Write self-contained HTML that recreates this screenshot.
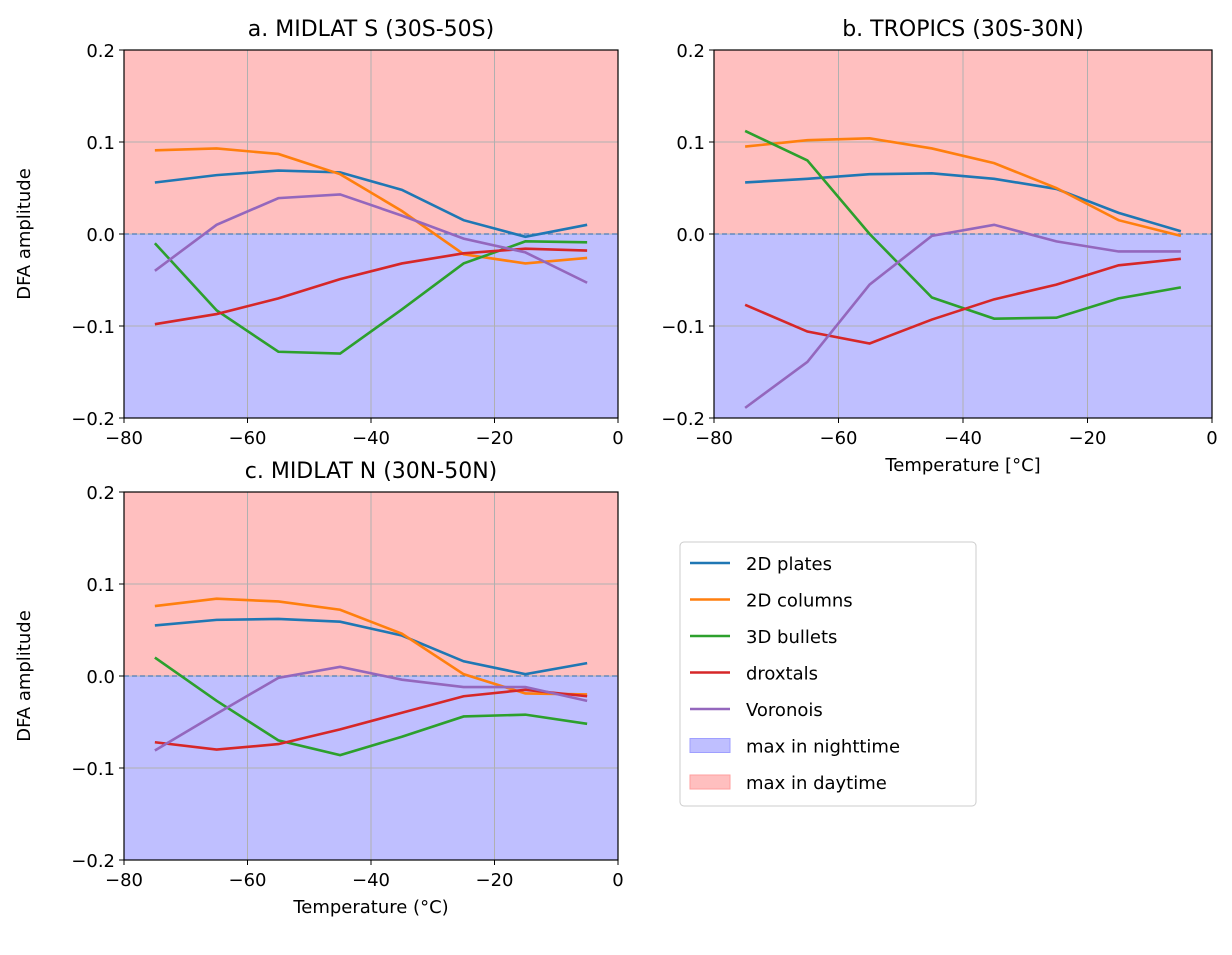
<!DOCTYPE html>
<html><head><meta charset="utf-8"><style>
body{margin:0;background:#fff;}
svg{font-family:"DejaVu Sans","Liberation Sans",sans-serif;}
</style></head><body>
<svg id="fig" width="1232" height="950" xmlns="http://www.w3.org/2000/svg"></svg>
<script>
const temps=[-75,-65,-55,-45,-35,-25,-15,-5];
const xTicks=[-80,-60,-40,-20,0];
const yTicks=[-0.2,-0.1,0.0,0.1,0.2];
const seriesNames=["2D plates","2D columns","3D bullets","droxtals","Voronois"];
const seriesColors=["#1f77b4","#ff7f0e","#2ca02c","#d62728","#9467bd"];
const aPlates=[0.056,0.064,0.069,0.067,0.048,0.015,-0.003,0.010];
const aColumns=[0.091,0.093,0.087,0.065,0.025,-0.022,-0.032,-0.026];
const aBullets=[-0.010,-0.083,-0.128,-0.130,-0.082,-0.032,-0.008,-0.009];
const aDroxtals=[-0.098,-0.087,-0.070,-0.049,-0.032,-0.021,-0.016,-0.018];
const aVoronois=[-0.040,0.010,0.039,0.043,0.020,-0.005,-0.020,-0.053];
const bPlates=[0.056,0.060,0.065,0.066,0.060,0.049,0.023,0.003];
const bColumns=[0.095,0.102,0.104,0.093,0.077,0.050,0.015,-0.002];
const bBullets=[0.112,0.080,0.000,-0.069,-0.092,-0.091,-0.070,-0.058];
const bDroxtals=[-0.077,-0.106,-0.119,-0.093,-0.071,-0.055,-0.034,-0.027];
const bVoronois=[-0.189,-0.139,-0.055,-0.002,0.010,-0.008,-0.019,-0.019];
const cPlates=[0.055,0.061,0.062,0.059,0.044,0.016,0.002,0.014];
const cColumns=[0.076,0.084,0.081,0.072,0.046,0.002,-0.019,-0.020];
const cBullets=[0.020,-0.027,-0.070,-0.086,-0.066,-0.044,-0.042,-0.052];
const cDroxtals=[-0.072,-0.080,-0.074,-0.058,-0.040,-0.022,-0.015,-0.022];
const cVoronois=[-0.081,-0.041,-0.002,0.010,-0.004,-0.012,-0.012,-0.027];

const NS="http://www.w3.org/2000/svg";
const svg=document.getElementById('fig');
function mk(tag,attrs,parent){const e=document.createElementNS(NS,tag);for(const k in attrs)e.setAttribute(k,attrs[k]);(parent||svg).appendChild(e);return e;}
function txt(s,attrs,parent){const e=mk('text',attrs,parent);e.textContent=s;return e;}

function panel(id,x0,x1,y0,y1,title,series,ylabel,xlabel){
  const g=mk('g',{});
  
  
  const xs=v=>x0+(v+80)/80*(x1-x0);
  const ys=v=>y1-(v+0.2)/0.4*(y1-y0);
  const day=mk('rect',{x:x0,y:y0,width:x1-x0,height:ys(0)-y0,fill:'#ffbfbf'},g);
  
  
  const night=mk('rect',{x:x0,y:ys(0),width:x1-x0,height:y1-ys(0),fill:'#bfbfff'},g);
  
  
  xTicks.forEach(t=>{
    mk('line',{x1:xs(t),x2:xs(t),y1:y0,y2:y1,stroke:'#b0b0b0','stroke-width':1},g);
    mk('line',{x1:xs(t),x2:xs(t),y1:y1,y2:y1+5,stroke:'#000','stroke-width':1},g);
    const l=txt(t===0?'0':String(t).replace('-','\u2212'),{x:xs(t),y:y1+26,'font-size':18,'text-anchor':'middle'},g);
    
    
  });
  yTicks.forEach(t=>{
    mk('line',{x1:x0,x2:x1,y1:ys(t),y2:ys(t),stroke:'#b0b0b0','stroke-width':1},g);
    mk('line',{x1:x0-5,x2:x0,y1:ys(t),y2:ys(t),stroke:'#000','stroke-width':1},g);
    const l=txt(t.toFixed(1).replace('-','\u2212'),{x:x0-9,y:ys(t)+7,'font-size':18,'text-anchor':'end'},g);
    
    
  });
  mk('line',{x1:x0,x2:x1,y1:ys(0),y2:ys(0),stroke:'#4a7fb5','stroke-width':1.3,'stroke-dasharray':'5,3'},g);
  series.forEach((arr,i)=>{
    const p=mk('polyline',{points:arr.map((v,j)=>xs(temps[j])+','+ys(v)).join(' '),fill:'none',stroke:seriesColors[i],'stroke-width':2.6},g);
    
    
  });
  mk('rect',{x:x0,y:y0,width:x1-x0,height:y1-y0,fill:'none',stroke:'#000','stroke-width':1.2},g);
  const t=txt(title,{x:(x0+x1)/2,y:y0-14,'font-size':22,'text-anchor':'middle'},g);
  
  
  if(ylabel){const yl=txt(ylabel,{x:0,y:0,'font-size':18,'text-anchor':'middle',transform:`translate(30,${(y0+y1)/2}) rotate(-90)`},g);
    
    }
  if(xlabel){const xl=txt(xlabel,{x:(x0+x1)/2,y:y1+53,'font-size':18,'text-anchor':'middle'},g);
    
    }
}
panel('a',124,618,50,418,'a. MIDLAT S (30S-50S)',[aPlates,aColumns,aBullets,aDroxtals,aVoronois],'DFA amplitude',null);
panel('b',714,1212,50,418,'b. TROPICS (30S-30N)',[bPlates,bColumns,bBullets,bDroxtals,bVoronois],null,'Temperature [°C]');
panel('c',124,618,492,860,'c. MIDLAT N (30N-50N)',[cPlates,cColumns,cBullets,cDroxtals,cVoronois],'DFA amplitude','Temperature (°C)');

const lg=mk('g',{});


mk('rect',{x:680,y:542,width:296,height:264,rx:4,fill:'#fff',stroke:'#ccc','stroke-width':1},lg);
const entries=seriesNames.map((n,i)=>({n,c:seriesColors[i],line:true})).concat([{n:'max in nighttime',c:'#bfbfff',e:'#9f9fff'},{n:'max in daytime',c:'#ffbfbf',e:'#ff9f9f'}]);
entries.forEach((en,i)=>{
  const y=563+i*36.5;
  const eg=mk('g',{},lg);
  
  
  if(en.line) mk('line',{x1:690,x2:730,y1:y,y2:y,stroke:en.c,'stroke-width':2.6},eg);
  else mk('rect',{x:690,y:y-7,width:40,height:14,fill:en.c,stroke:en.e},eg);
  txt(en.n,{x:746,y:y+7,'font-size':18},eg);
});
</script>
</body></html>
